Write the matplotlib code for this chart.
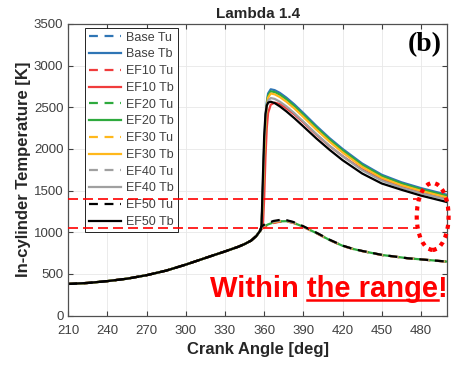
import matplotlib
matplotlib.use("Agg")
import matplotlib.pyplot as plt
from matplotlib.patches import Ellipse
from matplotlib.lines import Line2D

plt.rcParams["font.family"] = ["Liberation Sans", "DejaVu Sans"]

# compression stroke (shared by all cases, Tu == Tb before ignition)
theta_comp = [210, 225, 240, 255, 270, 285, 300, 310, 320, 330, 340, 345,
              350, 354, 357]
temp_comp = [380, 392, 414, 443, 485, 540, 612, 665, 718, 770, 825, 858,
             900, 955, 1020]

# burned zone after ignition
theta_tb = [358, 359, 360, 361, 362, 363, 365, 368, 372, 377, 383, 390,
            400, 410, 420, 435, 450, 465, 480, 500]
tb_base = [1060, 1500, 2000, 2350, 2560, 2665, 2715, 2705, 2672, 2615, 2535,
           2430, 2275, 2130, 2000, 1825, 1690, 1600, 1530, 1450]
tb_ef10 = [1040, 1080, 1400, 1900, 2250, 2430, 2530, 2555, 2538, 2488, 2415,
           2318, 2170, 2035, 1915, 1755, 1635, 1552, 1488, 1410]
tb_ef20 = [1060, 1480, 1970, 2320, 2530, 2640, 2690, 2682, 2650, 2594, 2515,
           2410, 2256, 2112, 1983, 1808, 1675, 1586, 1516, 1436]
tb_ef30 = [1060, 1460, 1950, 2300, 2510, 2615, 2665, 2655, 2622, 2566, 2487,
           2383, 2230, 2087, 1958, 1785, 1653, 1565, 1497, 1418]
tb_ef40 = [1065, 1550, 2050, 2380, 2520, 2580, 2610, 2600, 2566, 2510, 2430,
           2328, 2178, 2038, 1912, 1745, 1620, 1535, 1468, 1392]
tb_ef50 = [1080, 1650, 2150, 2420, 2520, 2555, 2566, 2550, 2510, 2450, 2370,
           2270, 2125, 1990, 1865, 1705, 1585, 1510, 1440, 1362]

# unburned zone after ignition
theta_tu = [358, 360, 363, 367, 372, 377, 382, 390, 400, 410, 420, 428, 435,
            450, 470, 500]
tu_base = [1055, 1070, 1092, 1115, 1130, 1132, 1115, 1065, 990, 908, 838, 800,
           775, 728, 688, 648]
tu_ef10 = [1040, 1058, 1085, 1110, 1127, 1130, 1114, 1064, 989, 907, 837, 799,
           774, 727, 687, 647]
tu_ef20 = [1055, 1072, 1094, 1117, 1131, 1133, 1116, 1066, 990, 908, 838, 800,
           775, 728, 688, 648]
tu_ef30 = [1058, 1075, 1097, 1120, 1134, 1135, 1118, 1067, 991, 909, 838, 800,
           775, 728, 688, 648]
tu_ef40 = [1062, 1080, 1102, 1126, 1140, 1139, 1120, 1069, 993, 910, 839, 801,
           776, 729, 688, 648]
tu_ef50 = [1070, 1090, 1110, 1135, 1148, 1145, 1125, 1072, 995, 911, 840, 801,
           776, 729, 688, 648]

cases = ["Base", "EF10", "EF20", "EF30", "EF40", "EF50"]
tb_all = [tb_base, tb_ef10, tb_ef20, tb_ef30, tb_ef40, tb_ef50]
tu_all = [tu_base, tu_ef10, tu_ef20, tu_ef30, tu_ef40, tu_ef50]
colors = ["#2F75B5", "#F03C3C", "#2EAA3E", "#FFB81C", "#A0A0A0", "#000000"]

# limits of the "within the range" band
band_lo, band_hi = 1050, 1400
band_end = 477

fig = plt.figure(figsize=(4.52, 3.67), dpi=100)
ax = fig.add_axes([0.151, 0.140, 0.838, 0.795])

dash = (0, (4, 3))
for name, c, tu, tb in zip(cases, colors, tu_all, tb_all):
    # shift the EF20 dashes so it peeks through the gaps of the others
    ls = (3.5, (4, 3)) if name == "EF20" else dash
    ax.plot(theta_comp + theta_tu, temp_comp + tu, color=c, lw=1.6,
            linestyle=ls, label=f"{name} Tu")
    ax.plot(theta_comp + theta_tb, temp_comp + tb, color=c, lw=1.6,
            label=f"{name} Tb")

for yv in (band_lo, band_hi):
    ax.plot([210, band_end], [yv, yv], color="red", lw=1.2,
            linestyle=(0, (6, 3)), zorder=6)

ell = Ellipse((489, 1190), 24.4, 803, fill=False, edgecolor="red", lw=3,
              linestyle=(0, (1, 1.2)), clip_on=False, zorder=7)
ax.add_patch(ell)

ax.set_xlim(210, 500)
ax.set_ylim(0, 3500)
ax.set_xticks(range(210, 481, 30))
ax.set_yticks(range(0, 3501, 500))
ax.grid(True, color="#E8E8E8", lw=0.6)
ax.set_axisbelow(True)
ax.tick_params(direction="in", top=True, right=True, length=3.5,
               color="#404040", labelcolor="#404040", labelsize=9.5)
ax.tick_params(axis="x", pad=7)
for sp in ax.spines.values():
    sp.set_color("#505050")
    sp.set_linewidth(0.9)

ax.set_xlabel("Crank Angle [deg]", fontsize=12, fontweight="bold",
              color="#262626", labelpad=3)
ax.set_ylabel("In-cylinder Temperature [K]", fontsize=12, fontweight="bold",
              color="#262626", labelpad=2)
ax.set_title("Lambda 1.4", fontsize=11, fontweight="bold", color="#262626",
             pad=4)

leg = ax.legend(loc="upper left", bbox_to_anchor=(0.044, 0.986),
                borderaxespad=0, fancybox=False, edgecolor="black",
                fontsize=9, handlelength=2.6, labelspacing=0.38,
                borderpad=0.3, handletextpad=0.4, framealpha=1)
leg.get_frame().set_linewidth(0.6)
for t in leg.get_texts():
    t.set_color("#404040")
for i, h in enumerate(leg.get_lines()):
    if i % 2 == 0:
        h.set_linestyle(dash)

ax.text(0.985, 0.93, "(b)", transform=ax.transAxes, ha="right", va="center",
        fontsize=20, fontweight="bold", family="Liberation Serif")

# annotation text with underlined part
tx, ty = 210 / 452, 1 - 297 / 367
kw = dict(fontsize=21, fontweight="bold", color="red", va="baseline")
full = fig.text(tx, ty, "Within the range!", ha="left", **kw)
fig.canvas.draw()
r = fig.canvas.get_renderer()
bb_full = full.get_window_extent(r)
probe_a = fig.text(tx, ty, "Within the range", ha="left", alpha=0, **kw)
probe_b = fig.text(bb_full.x1 / fig.bbox.width, ty, "the range!", ha="right",
                   alpha=0, **kw)
x_end = probe_a.get_window_extent(r).x1
x_start = probe_b.get_window_extent(r).x0
uy = 1 - 300 / 367
fig.add_artist(Line2D([x_start / fig.bbox.width, x_end / fig.bbox.width],
                      [uy, uy], transform=fig.transFigure, color="red", lw=1.8))

fig.savefig("out.png", dpi=100)
